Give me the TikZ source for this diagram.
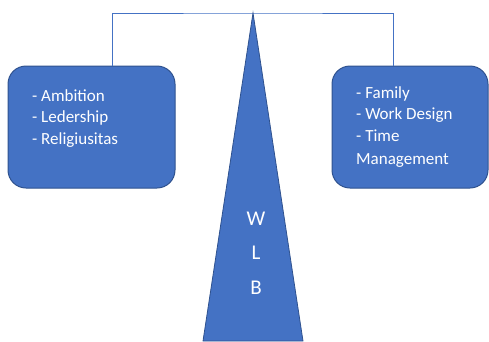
\documentclass[tikz,border=0pt]{standalone}
\usepackage{fontspec}
\setmainfont{Carlito}

\definecolor{wlbblue}{HTML}{4472C4}
\definecolor{wlbedge}{HTML}{2F528F}

\begin{document}
\begin{tikzpicture}[x=1pt, y=-1pt,
    factorbox/.style={draw=wlbedge, fill=wlbblue, line width=1pt, rounded corners=18pt},
    factortext/.style={text=white, align=left, anchor=north west, inner sep=0pt,
        font=\fontsize{17}{21.5}\selectfont}]
    \useasboundingbox (0, 0) rectangle (489, 341);

    % Kaesten links und rechts
    \node[factorbox, minimum width=167pt, minimum height=122pt] (left) at (91.5, 127) {};
    \node[factorbox, minimum width=156pt, minimum height=122pt] (right) at (410, 127) {};

    % Spitze des Dreiecks
    \coordinate (apex) at (253, 13);

    % Verbindungslinie
    \draw[wlbblue, line width=1pt] ([xshift=20.5pt]left.north) |- (apex) -| ([xshift=-17pt]right.north);

    % Dreieck
    \filldraw[fill=wlbblue, draw=wlbedge, line width=0.8pt] (apex) -- (303, 341) -- (203, 341) -- cycle;

    % Texte
    \node[factortext] (lefttext) at (32, 89) {- Ambition\\- Ledership\\- Religiusitas};
    \node[factortext] (righttext) at (356, 86) {- Family\\- Work Design\\- Time\\[2pt]Management};
    \node[text=white, align=center, inner sep=0pt, font=\fontsize{21}{34.5}\selectfont] (wlb) at (256, 253) {W\\L\\B};
\end{tikzpicture}
\end{document}
